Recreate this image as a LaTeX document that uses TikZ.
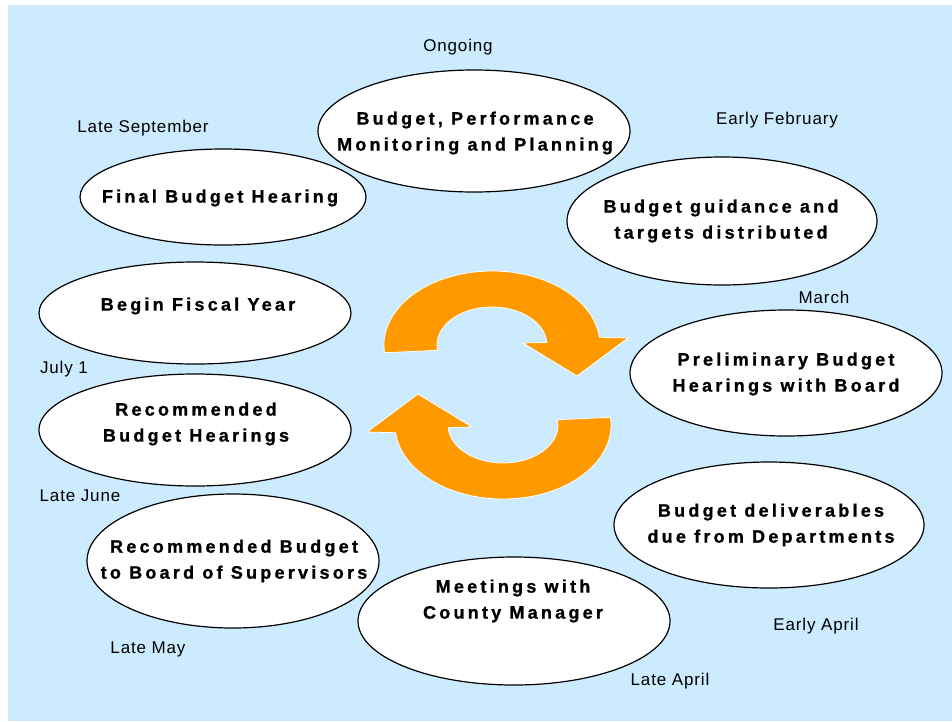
\documentclass[tikz,border=0pt]{standalone}
\usepackage{fontspec}
\setmainfont{Liberation Sans}
\newfontfamily\stagefont[LetterSpace=18,FakeBold=1]{Liberation Sans Bold}
\newfontfamily\datefont[LetterSpace=5]{Liberation Sans}
\definecolor{skyblue}{RGB}{204,235,255}
\definecolor{cycleorange}{RGB}{255,153,0}

\begin{document}
\begin{tikzpicture}[x=1pt, y=-1pt,
    stage/.style={draw=black, fill=white, line width=1.2pt},
    stagetext/.style={align=center, inner sep=0pt, font=\stagefont\fontsize{18}{26}\selectfont},
    datetext/.style={inner sep=0pt, font=\datefont\fontsize{17}{20}\selectfont},
    cyclearrow/.style={fill=cycleorange, draw=white, line width=0.8pt}]
        % background
        \useasboundingbox (0,0) rectangle (952,721);
        \fill[white]   (0,0) rectangle (952,721);
        \fill[skyblue] (8,5) rectangle (952,721);
        % centres of the ellipses
        \coordinate (planning)     at (474,131);
        \coordinate (guidance)     at (722,221);
        \coordinate (boardprelim)  at (786,373);
        \coordinate (deliverables) at (769,525);
        \coordinate (manager)      at (514,621);
        \coordinate (toboard)      at (233,561);
        \coordinate (rechearings)  at (195,430);
        \coordinate (fiscalyear)   at (195,313);
        \coordinate (finalhearing) at (223,197);
        % drawing the ellipses
        \draw[stage] (finalhearing) ellipse [x radius=143, y radius=48];
        \draw[stage] (planning)     ellipse [x radius=156, y radius=61];
        \draw[stage] (guidance)     ellipse [x radius=155, y radius=64];
        \draw[stage] (boardprelim)  ellipse [x radius=156, y radius=63];
        \draw[stage] (deliverables) ellipse [x radius=155, y radius=63];
        \draw[stage] (manager)      ellipse [x radius=156, y radius=64];
        \draw[stage] (toboard)      ellipse [x radius=146, y radius=67];
        \draw[stage] (rechearings)  ellipse [x radius=156, y radius=56];
        \draw[stage] (fiscalyear)   ellipse [x radius=156, y radius=51];
        % texts of the ellipses
        \node[stagetext] (planningtext)     at (475,133) {Budget, Performance\\Monitoring and Planning};
        \node[stagetext] (guidancetext)     at (721,221) {Budget guidance and\\targets distributed};
        \node[stagetext] (boardprelimtext)  at (786,374) {Preliminary Budget\\Hearings with Board};
        \node[stagetext] (deliverablestext) at (771,525) {Budget deliverables\\due from Departments};
        \node[stagetext] (managertext)      at (513,601) {Meetings with\\County Manager};
        \node[stagetext] (toboardtext)      at (234,561) {Recommended Budget\\to Board of Supervisors};
        \node[stagetext] (rechearingstext)  at (196,424) {Recommended\\Budget Hearings};
        \node[stagetext] (fiscalyeartext)   at (198,306) {Begin Fiscal Year};
        \node[stagetext] (finalhearingtext) at (220,198) {Final Budget Hearing};
        % dates
        \node[datetext] (ongoing)       at (458,47)  {Ongoing};
        \node[datetext] (lateseptember) at (143,128) {Late September};
        \node[datetext] (earlyfebruary) at (777,120) {Early February};
        \node[datetext] (march)         at (824,297) {March};
        \node[datetext] (julyone)       at (64,369)  {July 1};
        \node[datetext] (latejune)      at (80,496)  {Late June};
        \node[datetext] (latemay)       at (148,649) {Late May};
        \node[datetext] (lateapril)     at (670,681) {Late April};
        \node[datetext] (earlyapril)    at (816,626) {Early April};
        % the two cycle arrows
        \coordinate (uppercentre) at (492,345);
        \coordinate (lowercentre) at (503,425);
        \draw[cyclearrow] ([shift={(174:108 and 74)}]uppercentre)
            arc [start angle=174, end angle=354, x radius=108, y radius=74]
            -- (628,338) -- (577,376) -- (523,343)
            -- ([shift={(356:55 and 38)}]uppercentre)
            arc [start angle=356, end angle=172, x radius=55, y radius=38] -- cycle;
        \draw[cyclearrow] ([shift={(354:108 and 74)}]lowercentre)
            arc [start angle=354, end angle=534, x radius=108, y radius=74]
            -- (367,432) -- (418,394) -- (472,427)
            -- ([shift={(536:55 and 38)}]lowercentre)
            arc [start angle=536, end angle=352, x radius=55, y radius=38] -- cycle;
\end{tikzpicture}
\end{document}
